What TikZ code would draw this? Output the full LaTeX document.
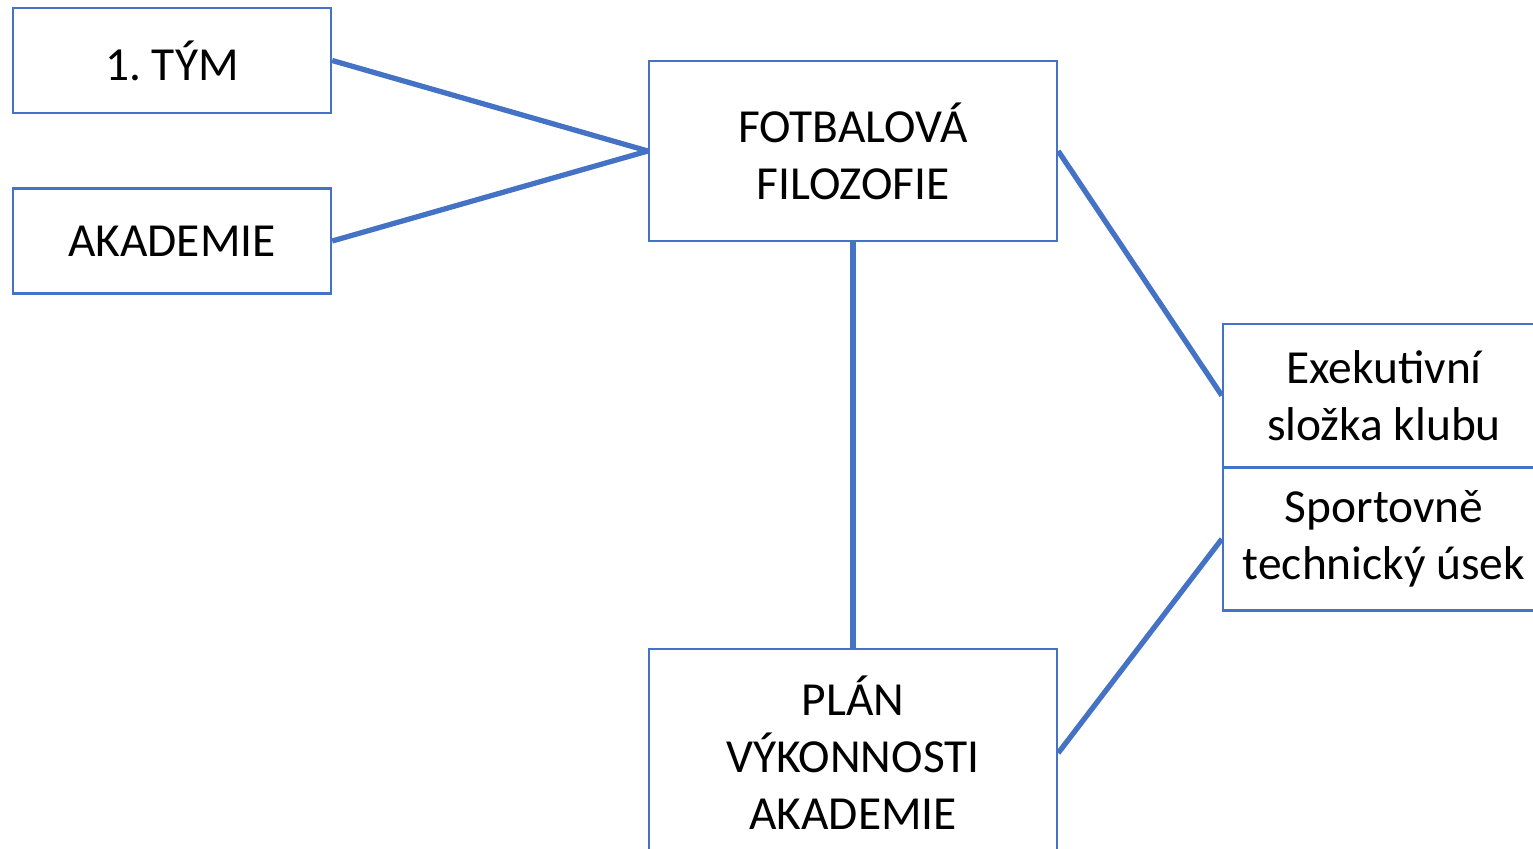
\documentclass[tikz,border=0pt]{standalone}
\usepackage{fontspec}
\setmainfont{Carlito}
\definecolor{officeblue}{HTML}{4472C4}
\frenchspacing

\begin{document}
\begin{tikzpicture}
[x=0.02cm,y=-0.02cm,%
  every node/.style={shape=rectangle,draw=officeblue,line width=1.4pt,
    inner sep=0pt,align=center,font=\fontsize{27}{32.5}\selectfont},%
  smallbox/.style={minimum width=6.36cm,minimum height=2.1cm},%
  bigbox/.style={minimum width=8.16cm,minimum height=3.6cm},%
  sidebox/.style={minimum width=6.44cm,minimum height=2.86cm},%
  link/.style={officeblue,line width=3pt}]
\useasboundingbox (0,0) rectangle (1533,848);
\node[smallbox] (tym) at (172,60.5) {1. TÝM};
\node[smallbox] (akademie) at (172,241) {AKADEMIE};
\node[bigbox] (filozofie) at (853,151) {FOTBALOVÁ\\FILOZOFIE};
\node[sidebox] (exekutiva) at (1384,395.5) {Exekutivní\\složka klubu};
\node[sidebox] (sportovni) at (1384,539) {Sportovně\\technický úsek};
\node[bigbox,minimum height=4.16cm] (plan) at (853,753) {PLÁN\\VÝKONNOSTI\\AKADEMIE};
% spojnice
\draw[link] (tym.east) -- (filozofie.west);
\draw[link] (akademie.east) -- (filozofie.west);
\draw[link] (filozofie.south) -- (plan.north);
\draw[link] (filozofie.east) -- (exekutiva.west);
\draw[link] (plan.east) -- (sportovni.west);
\end{tikzpicture}
\end{document}
